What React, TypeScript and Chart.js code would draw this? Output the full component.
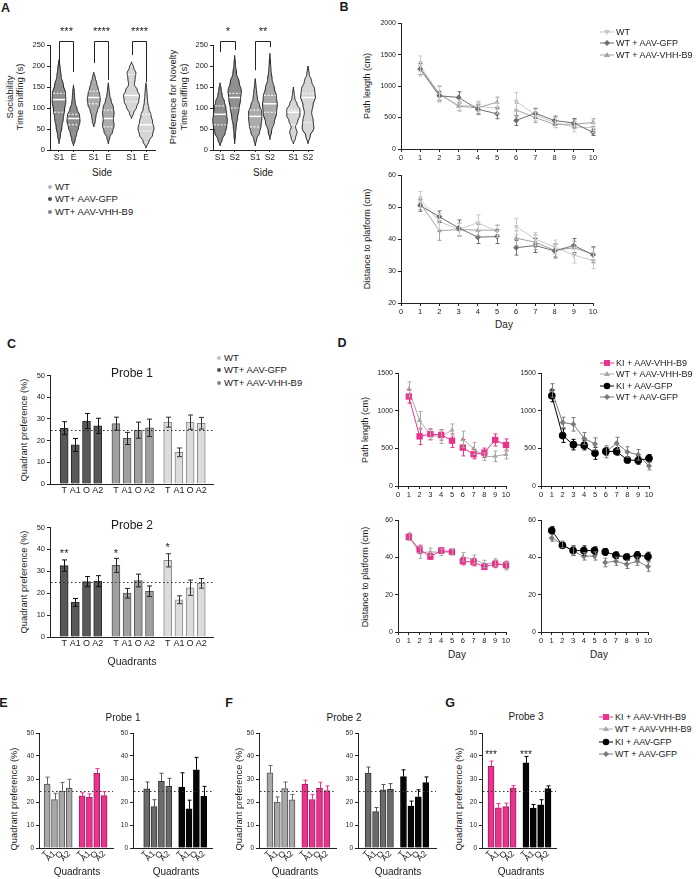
import React, { useEffect, useRef } from 'react';
import { Chart, registerables } from 'chart.js';

Chart.register(...registerables);
const FONT = '"Liberation Sans", Arial, Helvetica, sans-serif';
Chart.defaults.font.family = FONT;
Chart.defaults.color = '#222';

// ================= DATA =================
// Panel A – violins: half-widths (x units) at 11 evenly spaced levels between lo and hi
const socGfpS1 = { lo: 15, hi: 215, w: [0, 0.1, 0.2, 0.3, 0.38, 0.47, 0.45, 0.3, 0.15, 0.08, 0], med: 120, q1: 90, q3: 135 };
const socGfpE = { lo: 10, hi: 155, w: [0, 0.12, 0.22, 0.35, 0.45, 0.42, 0.25, 0.12, 0.08, 0.05, 0], med: 75, q1: 60, q3: 85 };
const socVhhS1 = { lo: 55, hi: 185, w: [0, 0.1, 0.15, 0.25, 0.4, 0.45, 0.4, 0.3, 0.2, 0.1, 0], med: 125, q1: 110, q3: 140 };
const socVhhE = { lo: 15, hi: 160, w: [0, 0.1, 0.3, 0.4, 0.35, 0.4, 0.35, 0.2, 0.1, 0.05, 0], med: 75, q1: 55, q3: 95 };
const socWtS1 = { lo: 75, hi: 210, w: [0, 0.15, 0.35, 0.5, 0.55, 0.4, 0.2, 0.25, 0.3, 0.15, 0], med: 130, q1: 115, q3: 180 };
const socWtE = { lo: 5, hi: 160, w: [0, 0.2, 0.45, 0.55, 0.45, 0.35, 0.2, 0.12, 0.08, 0.05, 0], med: 60, q1: 45, q3: 85 };
const novGfpS1 = { lo: 10, hi: 160, w: [0, 0.15, 0.35, 0.45, 0.5, 0.45, 0.4, 0.3, 0.15, 0.08, 0], med: 85, q1: 60, q3: 105 };
const novGfpS2 = { lo: 15, hi: 225, w: [0, 0.05, 0.1, 0.2, 0.3, 0.4, 0.45, 0.3, 0.12, 0.05, 0], med: 125, q1: 100, q3: 135 };
const novVhhS1 = { lo: 10, hi: 170, w: [0, 0.1, 0.3, 0.4, 0.45, 0.45, 0.3, 0.15, 0.1, 0.05, 0], med: 80, q1: 55, q3: 95 };
const novVhhS2 = { lo: 25, hi: 230, w: [0, 0.12, 0.3, 0.45, 0.5, 0.45, 0.3, 0.15, 0.08, 0.04, 0], med: 110, q1: 90, q3: 130 };
const novWtS1 = { lo: 15, hi: 150, w: [0, 0.15, 0.25, 0.15, 0.3, 0.45, 0.45, 0.25, 0.1, 0.05, 0], med: 90, q1: 60, q3: 95 };
const novWtS2 = { lo: 15, hi: 200, w: [0, 0.15, 0.4, 0.35, 0.25, 0.35, 0.5, 0.45, 0.25, 0.08, 0], med: 125, q1: 65, q3: 135 };
const sideLabelsSoc = ['S1', 'E', 'S1', 'E', 'S1', 'E'];
const sideLabelsNov = ['S1', 'S2', 'S1', 'S2', 'S1', 'S2'];
const sidePos = [1, 2, 3.4, 4.4, 6, 7];
const violinTicks = [0, 50, 100, 150, 200, 250];
// brackets: [x1, x2, leg1 value, leg2 value, stars]
const socBrackets: [number, number, number, number, string][] = [
  [1, 2, 207, 186, '***'], [3.4, 4.4, 207, 167, '****'], [6, 7, 226, 162, '****'],
];
const novBrackets: [number, number, number, number, string][] = [
  [1, 2, 233, 238, '*'], [3.4, 4.4, 190, 245, '**'],
];

// Panels B & D – water maze (days 1-10)
const days = [1, 2, 3, 4, 5, 6, 7, 8, 9, 10];
const wtPath = [1320, 880, 690, 680, 650, 760, 540, 420, 350, 340];
const wtPathErr = [160, 130, 90, 80, 90, 140, 90, 80, 80, 80];
const gfpPath = [1270, 845, 820, 632, 560, 455, 568, 452, 415, 265];
const gfpPathErr = [90, 70, 90, 80, 80, 80, 80, 70, 70, 50];
const vhhPath = [1285, 870, 680, 655, 745, 620, 500, 390, 395, 420];
const vhhPathErr = [100, 120, 70, 90, 80, 110, 80, 50, 70, 60];
const kiVhhPath = [1190, 660, 690, 680, 603, 510, 422, 444, 612, 546];
const kiVhhPathErr = [90, 110, 70, 70, 90, 110, 60, 60, 80, 80];
const kiGfpPath = [1200, 670, 550, 540, 435, 460, 460, 346, 340, 368];
const kiGfpPathErr = [80, 90, 70, 60, 80, 50, 50, 40, 50, 50];
const wtDist = [52.4, 45.5, 43, 45.1, 42.5, 43.9, 40, 37.5, 35, 33.3];
const wtDistErr = [2.5, 2.5, 2, 2.5, 2, 2.5, 2, 2.2, 2.5, 2.5];
const gfpDist = [50.5, 47, 43.5, 40.6, 40.8, 37.3, 38, 36.3, 38, 35.1];
const gfpDistErr = [1.8, 1.8, 2.5, 2, 2.2, 2.3, 2.2, 2.2, 2.2, 2.5];
const vhhDist = [51.2, 42.6, 43, 42.8, 42.8, 40.3, 39, 36.5, 37.3, 35.3];
const vhhDistErr = [2, 3, 2, 1.8, 1.5, 2.3, 2.3, 2, 2, 2];
const kiVhhDist = [51, 44.3, 40.5, 43.7, 43, 38, 37.5, 35, 36.5, 36];
const kiVhhDistErr = [1.7, 2.3, 1.5, 1.5, 1.5, 2, 2, 1.5, 2, 2];
const kiGfpDist = [54.5, 46.5, 43.7, 43.7, 43.7, 43, 41.2, 40.2, 41.2, 40.5];
const kiGfpDistErr = [2, 1.5, 2.5, 2.5, 2, 1.8, 1.8, 1.7, 2, 2.3];

// Panels C, E, F, G – quadrant preference (%)
const quadLabels = ['T', 'A1', 'O', 'A2'];
const p1Gfp = [25.7, 18, 29, 26.8];
const p1GfpErr = [3, 3, 3.5, 3.5];
const p1Vhh = [27.8, 21, 24.8, 25.9];
const p1VhhErr = [3, 2.8, 3.7, 4];
const p1Wt = [28.5, 14.6, 28.5, 28];
const p1WtErr = [2.3, 2, 3.3, 2.7];
const p2Gfp = [32.6, 15.8, 25.3, 25.5];
const p2GfpErr = [2.6, 1.8, 2.3, 2.5];
const p2Vhh = [32.7, 20, 25.8, 20.9];
const p2VhhErr = [3.2, 2.2, 2.9, 2.4];
const p2Wt = [35, 17, 22.5, 24.5];
const p2WtErr = [3, 1.8, 3.5, 2.2];
const p1KiVhh = [22.7, 22, 32.5, 22.8];
const p1KiVhhErr = [1.3, 1.5, 2, 1.7];
const p1KiGfp = [26.5, 17, 34, 22.5];
const p1KiGfpErr = [6.2, 3.8, 5.4, 4.3];
const p2KiVhh = [27.8, 21.1, 26, 25];
const p2KiVhhErr = [1.7, 2.2, 2.6, 2];
const p2KiGfp = [31, 18.2, 22.3, 28.4];
const p2KiGfpErr = [3, 2.2, 3, 2.5];
const p3KiVhh = [35.5, 17.5, 18, 26];
const p3KiVhhErr = [2.3, 1.8, 1.5, 1.1];
const p3KiGfp = [37, 17.4, 18.8, 25.8];
const p3KiGfpErr = [2.8, 1.5, 2.2, 1.2];
const chance = 25;
const c2Stars: [number, number, string][] = [[0, 38, '**'], [1, 38, '*'], [2, 40.5, '*']];
const gStars: [number, number, string][] = [[0, 40.5, '***'], [1, 40.5, '***']];

// ================= COLORS =================
const AX = '#222';
const C_WT = '#c9c9c9', C_GFP = '#6e6e6e', C_VHH = '#a3a3a3';
const PINK = '#e8348d', PINK_D = '#a11d5f';

// ================= HELPERS =================
type Area = { L: number; T: number; R: number; B: number };
type Pad = { l: number; t: number; r: number; b: number };

function yAxis(min: number, max: number, step: number, pad: Pad, size = 7.5) {
  return {
    type: 'linear', min, max,
    ticks: { stepSize: step, font: { size }, color: '#222', padding: 2, callback: (v: any) => String(v) },
    grid: { display: true, drawOnChartArea: false, drawTicks: true, tickLength: 3, color: AX, lineWidth: 1 },
    border: { display: true, color: AX, width: 1 },
    afterFit: (s: any) => { s.width = pad.l; },
  };
}

function xAxis(min: number, max: number, pad: Pad, o: { at?: number[]; labels?: string[]; step?: number; size: number; rot?: number; tick?: number }) {
  const rot = o.rot ?? 0;
  const tick = o.tick ?? 0;
  return {
    type: 'linear', min, max,
    afterBuildTicks: o.at ? (s: any) => { s.ticks = o.at!.map((v) => ({ value: v })); } : undefined,
    ticks: {
      stepSize: o.step, autoSkip: false, maxRotation: rot, minRotation: rot, font: { size: o.size }, color: '#222', padding: 1,
      callback: o.labels ? (_v: any, i: number) => o.labels![i] : (v: any) => String(v),
    },
    grid: { display: tick > 0, drawOnChartArea: false, drawTicks: tick > 0, tickLength: tick, color: AX, lineWidth: 1 },
    border: { display: true, color: AX, width: 1 },
    afterFit: (s: any) => { s.height = pad.b; },
  };
}

function baseOptions(pad: Pad, scales: any) {
  return {
    responsive: false, animation: false, events: [],
    layout: { padding: { top: pad.t, right: pad.r, left: 0, bottom: 0 } },
    plugins: { legend: { display: false }, tooltip: { enabled: false }, title: { display: false } },
    scales,
  };
}

const errorBarPlugin = {
  id: 'errorBars',
  afterDatasetsDraw(chart: any) {
    const ctx = chart.ctx;
    const ys = chart.scales.y;
    chart.data.datasets.forEach((ds: any, i: number) => {
      if (!ds.errs) return;
      const meta = chart.getDatasetMeta(i);
      meta.data.forEach((el: any, j: number) => {
        const d = ds.data[j];
        const v = d && typeof d === 'object' ? d.y : d;
        const e = ds.errs[j];
        if (v == null || e == null) return;
        const x = Math.round(el.x) + 0.5;
        const top = ys.getPixelForValue(v + e);
        const bot = ys.getPixelForValue(ds.errMode === 'up' ? v : v - e);
        const c = ds.cap ?? 2;
        ctx.save();
        ctx.strokeStyle = ds.errColor;
        ctx.lineWidth = 1;
        ctx.beginPath();
        ctx.moveTo(x, top); ctx.lineTo(x, bot);
        ctx.moveTo(x - c, top); ctx.lineTo(x + c, top);
        if (ds.errMode !== 'up') { ctx.moveTo(x - c, bot); ctx.lineTo(x + c, bot); }
        ctx.stroke();
        ctx.restore();
      });
    });
  },
};

function refLinePlugin(value: number) {
  return {
    id: 'refLine',
    afterDatasetsDraw(chart: any) {
      const { ctx, chartArea } = chart;
      const y = Math.round(chart.scales.y.getPixelForValue(value)) + 0.5;
      ctx.save();
      ctx.setLineDash([1.5, 2.5]);
      ctx.strokeStyle = '#333';
      ctx.lineWidth = 1;
      ctx.beginPath();
      ctx.moveTo(chartArea.left + 1, y);
      ctx.lineTo(chartArea.right, y);
      ctx.stroke();
      ctx.restore();
    },
  };
}

function starsPlugin(items: { x: number; y: number; text: string }[], size: number) {
  return {
    id: 'stars',
    afterDatasetsDraw(chart: any) {
      const { ctx } = chart;
      ctx.save();
      ctx.fillStyle = '#222';
      ctx.font = `${size}px ${FONT}`;
      ctx.textAlign = 'center';
      ctx.textBaseline = 'middle';
      items.forEach((it) => ctx.fillText(it.text, chart.scales.x.getPixelForValue(it.x), chart.scales.y.getPixelForValue(it.y)));
      ctx.restore();
    },
  };
}

function widthAt(v: any, y: number) {
  const n = v.w.length;
  const f = ((y - v.lo) / (v.hi - v.lo)) * (n - 1);
  if (f <= 0 || f >= n - 1) return 0;
  const i = Math.floor(f);
  const t = f - i;
  const tt = (1 - Math.cos(Math.PI * t)) / 2;
  return v.w[i] * (1 - tt) + v.w[i + 1] * tt;
}

function violinPlugin(violins: any[], brackets: [number, number, number, number, string][]) {
  return {
    id: 'violins',
    afterDatasetsDraw(chart: any) {
      const { ctx } = chart;
      const xs = chart.scales.x, ys = chart.scales.y;
      violins.forEach((v) => {
        const steps = 80;
        const pts: [number, number][] = [];
        for (let k = 0; k <= steps; k++) {
          const yv = v.lo + ((v.hi - v.lo) * k) / steps;
          pts.push([yv, widthAt(v, yv)]);
        }
        ctx.save();
        ctx.beginPath();
        pts.forEach(([yv, w], k) => {
          const px = xs.getPixelForValue(v.x + w), py = ys.getPixelForValue(yv);
          if (k) ctx.lineTo(px, py); else ctx.moveTo(px, py);
        });
        for (let k = pts.length - 1; k >= 0; k--) {
          const [yv, w] = pts[k];
          ctx.lineTo(xs.getPixelForValue(v.x - w), ys.getPixelForValue(yv));
        }
        ctx.closePath();
        ctx.fillStyle = v.fill;
        ctx.fill();
        ctx.strokeStyle = '#1a1a1a';
        ctx.lineWidth = 1;
        ctx.stroke();
        [[v.q1, true], [v.med, false], [v.q3, true]].forEach(([q, dashed]: any) => {
          const w = widthAt(v, q) * 0.9;
          const py = ys.getPixelForValue(q);
          ctx.beginPath();
          ctx.setLineDash(dashed ? [2, 1.5] : []);
          ctx.strokeStyle = '#ffffff';
          ctx.lineWidth = dashed ? 1 : 1.5;
          ctx.moveTo(xs.getPixelForValue(v.x - w), py);
          ctx.lineTo(xs.getPixelForValue(v.x + w), py);
          ctx.stroke();
        });
        ctx.restore();
      });
      ctx.save();
      ctx.strokeStyle = '#222';
      ctx.lineWidth = 1;
      ctx.fillStyle = '#222';
      ctx.font = `11px ${FONT}`;
      ctx.textAlign = 'center';
      ctx.textBaseline = 'middle';
      brackets.forEach(([x1, x2, l1, l2, s]) => {
        const yb = Math.round(ys.getPixelForValue(260)) + 0.5;
        const px1 = Math.round(xs.getPixelForValue(x1)) + 0.5, px2 = Math.round(xs.getPixelForValue(x2)) + 0.5;
        ctx.beginPath();
        ctx.moveTo(px1, ys.getPixelForValue(l1));
        ctx.lineTo(px1, yb);
        ctx.lineTo(px2, yb);
        ctx.lineTo(px2, ys.getPixelForValue(l2));
        ctx.stroke();
        ctx.fillText(s, (px1 + px2) / 2, ys.getPixelForValue(280));
      });
      ctx.restore();
    },
  };
}

function gapData(vals: number[]) {
  const out: any[] = [];
  vals.forEach((v, i) => {
    if (days[i] === 6) out.push({ x: 5.5, y: null });
    out.push({ x: days[i], y: v });
  });
  return out;
}
function gapErr(errs: number[]) {
  const out: any[] = [];
  errs.forEach((e, i) => {
    if (days[i] === 6) out.push(null);
    out.push(e);
  });
  return out;
}

function lineDs(vals: number[], errs: number[], color: string, pointStyle: string, radius: number, rotation = 0) {
  return {
    data: gapData(vals), errs: gapErr(errs), errColor: color, errMode: 'both', cap: 2,
    borderColor: color, backgroundColor: color, borderWidth: 1, pointStyle, pointRadius: radius,
    pointRotation: rotation, pointBorderWidth: 0, spanGaps: false, tension: 0, clip: false,
  };
}

function lineConfig(pad: Pad, yMin: number, yMax: number, yStep: number, datasets: any[]) {
  return {
    type: 'line',
    data: { datasets },
    options: baseOptions(pad, {
      x: xAxis(0, 10, pad, { step: 1, size: 7.5, tick: 3 }),
      y: yAxis(yMin, yMax, yStep, pad, 7),
    }),
    plugins: [errorBarPlugin],
  };
}

function barDs(xs: number[], vals: number[], errs: number[], fill: string, border: string, errColor: string, mode: string, thick: number, cap: number) {
  return {
    data: xs.map((x, i) => ({ x, y: vals[i] })), errs, errColor, errMode: mode, cap,
    backgroundColor: fill, borderColor: border, borderWidth: 1, barThickness: thick, grouped: false, clip: false,
  };
}

function barConfig(pad: Pad, xmin: number, xmax: number, at: number[], labels: string[], datasets: any[], o: { rot: number; xSize: number; ySize: number; stars?: any[]; starSize?: number }) {
  const plugins: any[] = [refLinePlugin(chance), errorBarPlugin];
  if (o.stars) plugins.push(starsPlugin(o.stars, o.starSize ?? 10));
  return {
    type: 'bar',
    data: { datasets },
    options: baseOptions(pad, {
      x: xAxis(xmin, xmax, pad, { at, labels, size: o.xSize, rot: o.rot, tick: 0 }),
      y: yAxis(0, 50, 10, pad, o.ySize),
    }),
    plugins,
  };
}

function violinConfig(pad: Pad, xmin: number, xmax: number, labels: string[], violins: any[], brackets: any[]) {
  return {
    type: 'scatter',
    data: { datasets: [] },
    options: baseOptions(pad, {
      x: xAxis(xmin, xmax, pad, { at: sidePos, labels, size: 8.5, tick: 2 }),
      y: { ...yAxis(0, 250, 50, pad, 7.5), afterBuildTicks: (s: any) => { s.ticks = violinTicks.map((v) => ({ value: v })); } },
    }),
    plugins: [violinPlugin(violins, brackets)],
  };
}

function ChartBox({ area, pad, make }: { area: Area; pad: Pad; make: () => any }) {
  const ref = useRef<HTMLCanvasElement>(null);
  const w = area.R - area.L + pad.l + pad.r;
  const h = area.B - area.T + pad.t + pad.b;
  useEffect(() => {
    const chart = new Chart(ref.current as HTMLCanvasElement, make());
    return () => chart.destroy();
  }, []);
  return (
    <canvas ref={ref} width={w} height={h}
      style={{ position: 'absolute', left: area.L - pad.l, top: area.T - pad.t, width: w, height: h }} />
  );
}

function Txt({ x, y, s = 9, rot = 0, bold = false, align = 'center', children }: any) {
  const tx = align === 'center' ? '-50%' : align === 'left' ? '0%' : '-100%';
  return (
    <div style={{
      position: 'absolute', left: x, top: y, transform: `translate(${tx}, -50%) rotate(${rot}deg)`,
      fontSize: s, fontFamily: FONT, fontWeight: bold ? 700 : 400, whiteSpace: 'nowrap', lineHeight: 1, color: '#1a1a1a',
    }}>{children}</div>
  );
}

function Marker({ shape, color, size }: { shape: string; color: string; size: number }) {
  const c = 7, r = size;
  if (shape === 'circle') return <circle cx={c} cy={5} r={r} fill={color} />;
  if (shape === 'rect') return <rect x={c - r} y={5 - r} width={2 * r} height={2 * r} fill={color} />;
  if (shape === 'tri') return <polygon points={`${c},${5 - r} ${c + r},${5 + r * 0.7} ${c - r},${5 + r * 0.7}`} fill={color} />;
  if (shape === 'triDown') return <polygon points={`${c},${5 + r} ${c + r},${5 - r * 0.7} ${c - r},${5 - r * 0.7}`} fill={color} />;
  return <polygon points={`${c},${5 - r} ${c + r},5 ${c},${5 + r} ${c - r},5`} fill={color} />;
}

function LineLegend({ x, y, color, shape, size, text }: any) {
  return (
    <>
      <svg width={14} height={10} style={{ position: 'absolute', left: x, top: y - 5 }}>
        <line x1={0} y1={5} x2={14} y2={5} stroke={color} strokeWidth={1} />
        <Marker shape={shape} color={color} size={size} />
      </svg>
      <Txt x={x + 16} y={y} s={9} align="left">{text}</Txt>
    </>
  );
}

function DotLegend({ x, y, color, text, s = 9.5 }: any) {
  return (
    <>
      <div style={{ position: 'absolute', left: x - 2, top: y - 2, width: 4, height: 4, borderRadius: 2, background: color }} />
      <Txt x={x + 5} y={y} s={s} align="left">{text}</Txt>
    </>
  );
}

// ================= APP =================
export default function App() {
  const G1 = '#8f8f8f', G2 = '#ababab', G3 = '#d6d6d6';
  const socV = [
    { ...socGfpS1, x: sidePos[0], fill: G1 }, { ...socGfpE, x: sidePos[1], fill: G1 },
    { ...socVhhS1, x: sidePos[2], fill: G2 }, { ...socVhhE, x: sidePos[3], fill: G2 },
    { ...socWtS1, x: sidePos[4], fill: G3 }, { ...socWtE, x: sidePos[5], fill: G3 },
  ];
  const novV = [
    { ...novGfpS1, x: sidePos[0], fill: G1 }, { ...novGfpS2, x: sidePos[1], fill: G1 },
    { ...novVhhS1, x: sidePos[2], fill: G2 }, { ...novVhhS2, x: sidePos[3], fill: G2 },
    { ...novWtS1, x: sidePos[4], fill: G3 }, { ...novWtS2, x: sidePos[5], fill: G3 },
  ];

  const padV: Pad = { l: 22, t: 26, r: 4, b: 14 };
  const padL: Pad = { l: 24, t: 6, r: 8, b: 14 };
  const padC: Pad = { l: 20, t: 6, r: 4, b: 16 };
  const padE: Pad = { l: 16, t: 6, r: 3, b: 20 };

  const posC = (g: number) => [0, 1, 2, 3].map((i) => 1 + g * 4.63 + i);
  const cAt = [...posC(0), ...posC(1), ...posC(2)];
  const cLabels = [...quadLabels, ...quadLabels, ...quadLabels];
  const posL = [1, 2, 3, 4], posR = [5.75, 6.75, 7.75, 8.75];
  const eAt = [...posL, ...posR];
  const eLabels = [...quadLabels, ...quadLabels];
  const eOpts = { rot: 45, xSize: 8.5, ySize: 6.5 };

  const cBars = (gfp: number[], gfpE: number[], vhh: number[], vhhE: number[], wt: number[], wtE: number[]) => [
    barDs(posC(0), gfp, gfpE, '#585858', '#2a2a2a', '#111', 'both', 8, 2.5),
    barDs(posC(1), vhh, vhhE, '#a0a0a0', '#555', '#222', 'both', 8, 2.5),
    barDs(posC(2), wt, wtE, '#dcdcdc', '#888', '#333', 'both', 8, 2.5),
  ];

  return (
    <div style={{ position: 'absolute', left: 0, top: 0, width: 696, height: 879, background: '#fff', overflow: 'hidden' }}>
      {/* ---------- A ---------- */}
      <Txt x={5.5} y={8} s={12.5} bold>A</Txt>
      <ChartBox area={{ L: 50, T: 45, R: 155, B: 150 }} pad={padV}
        make={() => violinConfig(padV, 0.38, 7.62, sideLabelsSoc, socV, socBrackets)} />
      <ChartBox area={{ L: 213, T: 45, R: 313, B: 150 }} pad={padV}
        make={() => violinConfig(padV, 0.52, 7.34, sideLabelsNov, novV, novBrackets)} />
      <Txt x={10} y={97} s={9.5} rot={-90}>Sociability</Txt>
      <Txt x={20} y={97} s={9.5} rot={-90}>Time sniffing (s)</Txt>
      <Txt x={173} y={97} s={9.5} rot={-90}>Preference for Novelty</Txt>
      <Txt x={184} y={97} s={9.5} rot={-90}>Time sniffing (s)</Txt>
      <Txt x={102} y={173} s={10}>Side</Txt>
      <Txt x={263} y={173} s={10}>Side</Txt>
      <DotLegend x={50} y={187} color="#b5b5b5" text="WT" />
      <DotLegend x={50} y={199} color="#4f4f4f" text="WT+ AAV-GFP" />
      <DotLegend x={50} y={212} color="#828282" text="WT+ AAV-VHH-B9" />

      {/* ---------- B ---------- */}
      <Txt x={344} y={7} s={12.5} bold>B</Txt>
      <ChartBox area={{ L: 401, T: 23, R: 593, B: 149 }} pad={padL}
        make={() => lineConfig(padL, 0, 2000, 500, [
          lineDs(gfpPath, gfpPathErr, C_GFP, 'rectRot', 3),
          lineDs(vhhPath, vhhPathErr, C_VHH, 'triangle', 3),
          lineDs(wtPath, wtPathErr, C_WT, 'triangle', 3, 180),
        ])} />
      <ChartBox area={{ L: 401, T: 175, R: 593, B: 303 }} pad={padL}
        make={() => lineConfig(padL, 20, 60, 10, [
          lineDs(gfpDist, gfpDistErr, C_GFP, 'rectRot', 3),
          lineDs(vhhDist, vhhDistErr, C_VHH, 'triangle', 3),
          lineDs(wtDist, wtDistErr, C_WT, 'triangle', 3, 180),
        ])} />
      <Txt x={367} y={86} s={9} rot={-90}>Path length (cm)</Txt>
      <Txt x={367} y={239} s={9} rot={-90}>Distance to platform (cm)</Txt>
      <Txt x={504} y={325} s={10}>Day</Txt>
      <LineLegend x={600} y={32} color={C_WT} shape="triDown" size={3} text="WT" />
      <LineLegend x={600} y={43} color={C_GFP} shape="diamond" size={3} text="WT + AAV-GFP" />
      <LineLegend x={600} y={55} color={C_VHH} shape="tri" size={3} text="WT + AAV-VHH-B9" />

      {/* ---------- C ---------- */}
      <Txt x={11.5} y={344} s={12.5} bold>C</Txt>
      <DotLegend x={219} y={358} color="#c2c2c2" text="WT" />
      <DotLegend x={219} y={370} color="#4f4f4f" text="WT+ AAV-GFP" />
      <DotLegend x={219} y={383} color="#858585" text="WT+ AAV-VHH-B9" />
      <ChartBox area={{ L: 50, T: 375, R: 213, B: 484 }} pad={padC}
        make={() => barConfig(padC, 0.344, 13.7, cAt, cLabels, cBars(p1Gfp, p1GfpErr, p1Vhh, p1VhhErr, p1Wt, p1WtErr), { rot: 0, xSize: 9, ySize: 7.5 })} />
      <ChartBox area={{ L: 50, T: 527, R: 213, B: 637 }} pad={padC}
        make={() => barConfig(padC, 0.344, 13.7, cAt, cLabels, cBars(p2Gfp, p2GfpErr, p2Vhh, p2VhhErr, p2Wt, p2WtErr), {
          rot: 0, xSize: 9, ySize: 7.5, starSize: 11,
          stars: c2Stars.map(([g, y, t]) => ({ x: posC(g)[0], y, text: t })),
        })} />
      <Txt x={132} y={373} s={12}>Probe 1</Txt>
      <Txt x={132} y={525} s={12}>Probe 2</Txt>
      <Txt x={25} y={430} s={9.3} rot={-90}>Quadrant preference (%)</Txt>
      <Txt x={25} y={582} s={9.3} rot={-90}>Quadrant preference (%)</Txt>
      <Txt x={132} y={661} s={10.5}>Quadrants</Txt>

      {/* ---------- D ---------- */}
      <Txt x={342} y={343} s={12.5} bold>D</Txt>
      <ChartBox area={{ L: 398, T: 373, R: 506, B: 486 }} pad={padL}
        make={() => lineConfig(padL, 0, 1500, 500, [
          lineDs(kiVhhPath, kiVhhPathErr, PINK, 'rect', 4.5),
          lineDs(vhhPath, vhhPathErr, '#a8a8a8', 'triangle', 3),
        ])} />
      <ChartBox area={{ L: 541, T: 373, R: 649, B: 486 }} pad={padL}
        make={() => lineConfig(padL, 0, 1500, 500, [
          lineDs(kiGfpPath, kiGfpPathErr, '#000', 'circle', 3.8),
          lineDs(gfpPath, gfpPathErr, '#7a7a7a', 'rectRot', 3),
        ])} />
      <ChartBox area={{ L: 398, T: 520, R: 506, B: 632 }} pad={padL}
        make={() => lineConfig(padL, 0, 60, 20, [
          lineDs(kiVhhDist, kiVhhDistErr, PINK, 'rect', 4.5),
          lineDs(vhhDist, vhhDistErr, '#a8a8a8', 'triangle', 3),
        ])} />
      <ChartBox area={{ L: 541, T: 520, R: 648, B: 632 }} pad={padL}
        make={() => lineConfig(padL, 0, 60, 20, [
          lineDs(kiGfpDist, kiGfpDistErr, '#000', 'circle', 3.8),
          lineDs(gfpDist, gfpDistErr, '#7a7a7a', 'rectRot', 3),
        ])} />
      <Txt x={365} y={430} s={9} rot={-90}>Path length (cm)</Txt>
      <Txt x={365} y={577} s={9} rot={-90}>Distance to platform (cm)</Txt>
      <Txt x={457} y={655} s={10}>Day</Txt>
      <Txt x={599} y={655} s={10}>Day</Txt>
      <LineLegend x={600} y={363} color={PINK} shape="rect" size={3} text="KI + AAV-VHH-B9" />
      <LineLegend x={600} y={374} color="#a8a8a8" shape="tri" size={3} text="WT + AAV-VHH-B9" />
      <LineLegend x={600} y={386} color="#000" shape="circle" size={3.3} text="KI + AAV-GFP" />
      <LineLegend x={600} y={397} color="#7a7a7a" shape="diamond" size={3} text="WT + AAV-GFP" />

      {/* ---------- E ---------- */}
      <Txt x={3.5} y={703} s={12.5} bold>E</Txt>
      <Txt x={123} y={718} s={10}>Probe 1</Txt>
      <ChartBox area={{ L: 39, T: 733, R: 113, B: 848 }} pad={padE}
        make={() => barConfig(padE, 0.52, 9.33, eAt, eLabels, [
          barDs(posL, p1Vhh, p1VhhErr, '#a8a8a8', '#555', '#666', 'up', 6, 2),
          barDs(posR, p1KiVhh, p1KiVhhErr, PINK, PINK_D, PINK, 'up', 6, 2),
        ], eOpts)} />
      <ChartBox area={{ L: 133, T: 733, R: 212, B: 848 }} pad={padE}
        make={() => barConfig(padE, -0.19, 9.2, eAt, eLabels, [
          barDs(posL, p1Gfp, p1GfpErr, '#6b6b6b', '#333', '#555', 'up', 6, 2),
          barDs(posR, p1KiGfp, p1KiGfpErr, '#050505', '#000', '#000', 'up', 6, 2),
        ], eOpts)} />
      <Txt x={15} y={799} s={9.3} rot={-90}>Quadrant preference (%)</Txt>
      <Txt x={77} y={872} s={10}>Quadrants</Txt>
      <Txt x={176} y={872} s={10}>Quadrants</Txt>

      {/* ---------- F ---------- */}
      <Txt x={229} y={703} s={12.5} bold>F</Txt>
      <Txt x={344} y={718} s={10}>Probe 2</Txt>
      <ChartBox area={{ L: 259, T: 733, R: 336, B: 848 }} pad={padE}
        make={() => barConfig(padE, 0.166, 9.34, eAt, eLabels, [
          barDs(posL, p2Vhh, p2VhhErr, '#a8a8a8', '#555', '#666', 'up', 6, 2),
          barDs(posR, p2KiVhh, p2KiVhhErr, PINK, PINK_D, PINK, 'up', 6, 2),
        ], eOpts)} />
      <ChartBox area={{ L: 358, T: 733, R: 436, B: 848 }} pad={padE}
        make={() => barConfig(padE, 0.29, 9.47, eAt, eLabels, [
          barDs(posL, p2Gfp, p2GfpErr, '#6b6b6b', '#333', '#555', 'up', 6, 2),
          barDs(posR, p2KiGfp, p2KiGfpErr, '#050505', '#000', '#000', 'up', 6, 2),
        ], eOpts)} />
      <Txt x={240} y={799} s={9.3} rot={-90}>Quadrant preference (%)</Txt>
      <Txt x={295} y={872} s={10}>Quadrants</Txt>
      <Txt x={398} y={872} s={10}>Quadrants</Txt>

      {/* ---------- G ---------- */}
      <Txt x={450} y={703} s={12.5} bold>G</Txt>
      <Txt x={526} y={717} s={10}>Probe 3</Txt>
      <ChartBox area={{ L: 482, T: 733, R: 556, B: 848 }} pad={padE}
        make={() => barConfig(padE, 0.4, 9.21, eAt, eLabels, [
          barDs(posL, p3KiVhh, p3KiVhhErr, PINK, PINK_D, PINK, 'up', 6, 2),
          barDs(posR, p3KiGfp, p3KiGfpErr, '#050505', '#000', '#000', 'up', 6, 2),
        ], { ...eOpts, starSize: 10, stars: gStars.map(([g, y, t]) => ({ x: g === 0 ? posL[0] : posR[0], y, text: t })) })} />
      <Txt x={460} y={799} s={9.3} rot={-90}>Quadrant preference (%)</Txt>
      <Txt x={521} y={872} s={10}>Quadrants</Txt>
      <LineLegend x={599} y={717} color={PINK} shape="rect" size={3} text="KI + AAV-VHH-B9" />
      <LineLegend x={599} y={729} color="#a8a8a8" shape="tri" size={3} text="WT + AAV-VHH-B9" />
      <LineLegend x={599} y={742} color="#000" shape="circle" size={3.3} text="KI + AAV-GFP" />
      <LineLegend x={599} y={754} color="#7a7a7a" shape="diamond" size={3} text="WT + AAV-GFP" />
    </div>
  );
}
